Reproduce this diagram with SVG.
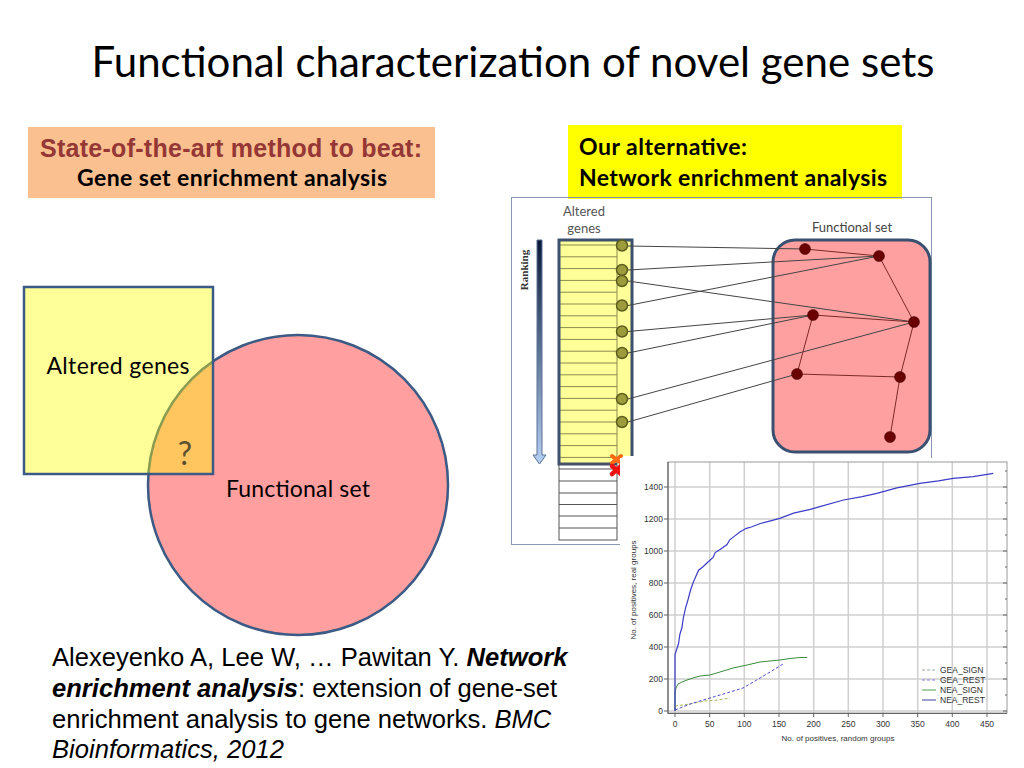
<svg xmlns="http://www.w3.org/2000/svg" width="1024" height="768" viewBox="0 0 1024 768">
<defs>
<style>
.cal{font-family:Lato,"Open Sans","Noto Sans",sans-serif}
.ari{font-family:"Liberation Sans",Arial,sans-serif}
.gridl{stroke:#cfcfcf;stroke-width:1.5;fill:none}
.tick{font-family:"Liberation Sans",Arial,sans-serif;font-size:8.5px;fill:#333}
.lnk{stroke:#444;stroke-width:1;fill:none}
.edge{stroke:#7a2a2a;stroke-width:1;fill:none}
.gc{fill:#9c9c3c;stroke:#5e5e1e;stroke-width:1.5}
.fn{fill:#6a0000;stroke:#3a0000;stroke-width:0.5}
.row{stroke:#8a8a50;stroke-width:1}
.row2{stroke:#555;stroke-width:1}
</style>
<linearGradient id="rankg" x1="0" y1="0" x2="0" y2="1">
<stop offset="0" stop-color="#08183a"/>
<stop offset="1" stop-color="#b4d0f4"/>
</linearGradient>
</defs>
<rect width="1024" height="768" fill="#ffffff"/>

<!-- Title -->
<text class="cal" x="513" y="77" font-size="42" text-anchor="middle" textLength="843" fill="#000">Functional characterization of novel gene sets</text>

<!-- Left header box -->
<g id="gsea-box">
<rect x="28" y="127" width="407" height="71" fill="#fac090"/>
<text class="ari" x="231" y="157" font-size="25" font-weight="bold" text-anchor="middle" fill="#953735" textLength="382">State-of-the-art method to beat:</text>
<text class="cal" x="232" y="186" font-size="23" font-weight="bold" text-anchor="middle" fill="#000" textLength="310">Gene set enrichment analysis</text>
</g>

<!-- Right header box -->
<g id="nea-box">
<rect x="568" y="125" width="334" height="74" fill="#ffff00"/>
<text class="cal" x="579" y="155" font-size="23" font-weight="bold" fill="#000" textLength="168">Our alternative:</text>
<text class="cal" x="579" y="186" font-size="23" font-weight="bold" fill="#000" textLength="308">Network enrichment analysis</text>
</g>

<!-- Venn -->
<g id="functional-set-circle">
<circle cx="298" cy="485" r="150" fill="#ff9f9f" stroke="#3b5a85" stroke-width="2.5"/>
</g>
<g id="altered-genes-square">
<rect x="24" y="287" width="189" height="187" fill="#ffff00" fill-opacity="0.4" stroke="#3b5a85" stroke-width="2.5"/>
<text class="cal" x="118" y="374" font-size="23" text-anchor="middle" fill="#000" textLength="143">Altered genes</text>
</g>
<g id="overlap">
<text class="cal" x="185" y="465" font-size="32" text-anchor="middle" fill="#5a5030">?</text>
</g>
<text class="cal" x="298" y="497" font-size="23" text-anchor="middle" fill="#000" textLength="144">Functional set</text>

<!-- Citation -->
<g id="citation" class="ari" font-size="25.6" fill="#000">
<text x="52" y="666">Alexeyenko A, Lee W, … Pawitan Y. <tspan font-weight="bold" font-style="italic">Network</tspan></text>
<text x="52" y="697"><tspan font-weight="bold" font-style="italic">enrichment analysis</tspan>: extension of gene-set</text>
<text x="52" y="728">enrichment analysis to gene networks. <tspan font-style="italic">BMC</tspan></text>
<text x="52" y="758"><tspan font-style="italic">Bioinformatics, 2012</tspan></text>
</g>

<!-- Network figure -->
<g id="network-frame">
<rect x="511.5" y="197.5" width="420" height="347" fill="none" stroke="#8898b0" stroke-width="1"/>
<text class="cal" x="584" y="216" font-size="13" text-anchor="middle" fill="#555">Altered</text>
<text class="cal" x="584" y="233" font-size="13" text-anchor="middle" fill="#555">genes</text>
<text x="0" y="0" font-family="'Liberation Serif',serif" font-size="11" font-weight="bold" fill="#333" text-anchor="middle" transform="translate(528,270) rotate(-90)">Ranking</text>
<text class="cal" x="852" y="232" font-size="13" text-anchor="middle" fill="#444">Functional set</text>
</g>

<g id="ranking-arrow">
<path d="M537,240 L542,240 L542,455 L546,455 L539.5,464 L533,455 L537,455 Z" fill="url(#rankg)" stroke="#5a7090" stroke-width="1"/>
</g>

<g id="gene-list">
<rect x="559" y="240" width="73" height="216" fill="#ffff99"/>
<rect x="559" y="456" width="58" height="8" fill="#ffff99"/>
<g class="row">
<line x1="560" y1="245" x2="617" y2="245"/>
<line x1="560" y1="256.8" x2="617" y2="256.8"/>
<line x1="560" y1="268.6" x2="617" y2="268.6"/>
<line x1="560" y1="280.4" x2="617" y2="280.4"/>
<line x1="560" y1="292.2" x2="617" y2="292.2"/>
<line x1="560" y1="304" x2="617" y2="304"/>
<line x1="560" y1="315.8" x2="617" y2="315.8"/>
<line x1="560" y1="327.6" x2="617" y2="327.6"/>
<line x1="560" y1="339.4" x2="617" y2="339.4"/>
<line x1="560" y1="351.2" x2="617" y2="351.2"/>
<line x1="560" y1="363" x2="617" y2="363"/>
<line x1="560" y1="374.8" x2="617" y2="374.8"/>
<line x1="560" y1="386.6" x2="617" y2="386.6"/>
<line x1="560" y1="398.4" x2="617" y2="398.4"/>
<line x1="560" y1="410.2" x2="617" y2="410.2"/>
<line x1="560" y1="422" x2="617" y2="422"/>
<line x1="560" y1="433.8" x2="617" y2="433.8"/>
<line x1="560" y1="445.6" x2="617" y2="445.6"/>
<line x1="560" y1="457.4" x2="617" y2="457.4"/>
<line x1="617" y1="240" x2="617" y2="464"/>
</g>
<path d="M632,456 L632,240 L559,240 L559,464 L617,464" fill="none" stroke="#3c5070" stroke-width="3"/>
<g class="row2">
<rect x="559" y="464" width="58" height="76" fill="none"/>
<line x1="559" y1="469" x2="617" y2="469"/>
<line x1="559" y1="481" x2="617" y2="481"/>
<line x1="559" y1="493" x2="617" y2="493"/>
<line x1="559" y1="504.5" x2="617" y2="504.5"/>
<line x1="559" y1="516" x2="617" y2="516"/>
<line x1="559" y1="528" x2="617" y2="528"/>
</g>
<path d="M612,456 L621,463 M621,456 L612,463" stroke="#ff6a10" stroke-width="4" stroke-linecap="round"/>
<path d="M612,466 L621,474 M621,466 L612,474" stroke="#ee1010" stroke-width="4.5" stroke-linecap="round"/>
</g>

<g id="functional-set-box">
<rect x="773" y="240" width="157" height="212" rx="22" ry="22" fill="#ffa0a0" stroke="#3a5070" stroke-width="3"/>
</g>

<g id="connectors">
<line class="lnk" x1="628" y1="246" x2="805" y2="249"/>
<line class="lnk" x1="628" y1="270" x2="879" y2="256"/>
<line class="lnk" x1="628" y1="281" x2="914" y2="322"/>
<line class="lnk" x1="628" y1="305.5" x2="879" y2="256"/>
<line class="lnk" x1="628" y1="331.5" x2="813" y2="315"/>
<line class="lnk" x1="628" y1="353" x2="813" y2="315"/>
<line class="lnk" x1="628" y1="399" x2="914" y2="322"/>
<line class="lnk" x1="628" y1="422" x2="797" y2="374"/>
<line class="edge" x1="805" y1="249" x2="879" y2="256"/>
<line class="edge" x1="879" y1="256" x2="914" y2="322"/>
<line class="edge" x1="813" y1="315" x2="914" y2="322"/>
<line class="edge" x1="813" y1="315" x2="797" y2="374"/>
<line class="edge" x1="797" y1="374" x2="900" y2="377"/>
<line class="edge" x1="914" y1="322" x2="900" y2="377"/>
<line class="edge" x1="900" y1="377" x2="890" y2="437"/>
</g>

<g id="gene-circles">
<circle class="gc" cx="622" cy="245.5" r="5.5"/>
<circle class="gc" cx="622" cy="270" r="5.5"/>
<circle class="gc" cx="622" cy="281" r="5.5"/>
<circle class="gc" cx="622" cy="305.5" r="5.5"/>
<circle class="gc" cx="622" cy="331.5" r="5.5"/>
<circle class="gc" cx="622" cy="353" r="5.5"/>
<circle class="gc" cx="622" cy="399" r="5.5"/>
<circle class="gc" cx="622" cy="422" r="5.5"/>
</g>

<g id="set-nodes">
<circle class="fn" cx="805" cy="249" r="5.5"/>
<circle class="fn" cx="879" cy="256" r="5.5"/>
<circle class="fn" cx="813" cy="315" r="5.5"/>
<circle class="fn" cx="914" cy="322" r="5.5"/>
<circle class="fn" cx="797" cy="374" r="5.5"/>
<circle class="fn" cx="900" cy="377" r="5.5"/>
<circle class="fn" cx="890" cy="437" r="5.5"/>
</g>

<!-- Chart -->
<g id="chart">
<rect x="620" y="458" width="392" height="296" fill="#ffffff"/>
<g class="gridl">
<line x1="675" y1="462" x2="675" y2="713"/>
<line x1="709.7" y1="462" x2="709.7" y2="713"/>
<line x1="744.3" y1="462" x2="744.3" y2="713"/>
<line x1="779" y1="462" x2="779" y2="713"/>
<line x1="813.7" y1="462" x2="813.7" y2="713"/>
<line x1="848.3" y1="462" x2="848.3" y2="713"/>
<line x1="883" y1="462" x2="883" y2="713"/>
<line x1="917.7" y1="462" x2="917.7" y2="713"/>
<line x1="952.3" y1="462" x2="952.3" y2="713"/>
<line x1="987" y1="462" x2="987" y2="713"/>
<line x1="668" y1="711" x2="1007" y2="711"/>
<line x1="668" y1="679" x2="1007" y2="679"/>
<line x1="668" y1="647" x2="1007" y2="647"/>
<line x1="668" y1="615" x2="1007" y2="615"/>
<line x1="668" y1="583" x2="1007" y2="583"/>
<line x1="668" y1="551" x2="1007" y2="551"/>
<line x1="668" y1="519" x2="1007" y2="519"/>
<line x1="668" y1="487" x2="1007" y2="487"/>
</g>
<rect x="668" y="462" width="339" height="251" fill="none" stroke="#9a9a9a" stroke-width="1"/>
<path d="M668,462 L668,713.5 L1007,713.5" fill="none" stroke="#666" stroke-width="1.2"/>
<path d="M664,711 H668 M664,679 H668 M664,647 H668 M664,615 H668 M664,583 H668 M664,551 H668 M664,519 H668 M664,487 H668 M675,713 V717 M709.7,713 V717 M744.3,713 V717 M779,713 V717 M813.7,713 V717 M848.3,713 V717 M883,713 V717 M917.7,713 V717 M952.3,713 V717 M987,713 V717 M1003,711 H1007 M1003,679 H1007 M1003,647 H1007 M1003,615 H1007 M1003,583 H1007 M1003,551 H1007 M1003,519 H1007 M1003,487 H1007 M1005,695 H1007 M1005,663 H1007 M1005,631 H1007 M1005,599 H1007 M1005,567 H1007 M1005,535 H1007 M1005,503 H1007 M1005,471 H1007" stroke="#666" stroke-width="1"/>
<g class="tick" text-anchor="end">
<text x="663" y="714">0</text>
<text x="663" y="682">200</text>
<text x="663" y="650">400</text>
<text x="663" y="618">600</text>
<text x="663" y="586">800</text>
<text x="663" y="554">1000</text>
<text x="663" y="522">1200</text>
<text x="663" y="490">1400</text>
</g>
<g class="tick" text-anchor="middle">
<text x="675" y="727">0</text>
<text x="709.7" y="727">50</text>
<text x="744.3" y="727">100</text>
<text x="779" y="727">150</text>
<text x="813.7" y="727">200</text>
<text x="848.3" y="727">250</text>
<text x="883" y="727">300</text>
<text x="917.7" y="727">350</text>
<text x="952.3" y="727">400</text>
<text x="987" y="727">450</text>
<text x="838" y="741" font-size="8">No. of positives, random groups</text>
<text x="0" y="0" font-size="8" transform="translate(636,590) rotate(-90)">No. of positives, real groups</text>
</g>
<polyline fill="none" stroke="#a8b850" stroke-width="1" stroke-dasharray="3,2" points="675,706 690,704 705,701 718,700 730,698"/>
<polyline fill="none" stroke="#5050d0" stroke-width="1" stroke-dasharray="3,2" points="675,710 690,704 710,698 730,692 743,688 755,681 770,672 783,664"/>
<polyline fill="none" stroke="#3c8c3c" stroke-width="1" points="675,711 675,692 676,688 678,684 682,682 687,680 693,678 700,676 710,675 720,672 733,668 747,665 760,662 770,661 780,660 790,658.5 800,657.5 807,657.5"/>
<polyline fill="none" stroke="#3c3cc8" stroke-width="1.2" points="675,711 675,655 676.4,650.2 678.5,643.8 679.9,634.2 681.9,627.8 683.3,618.2 685.4,608.6 688.2,599 690.3,591 693,583 695.8,576.6 698.6,570.2 702.7,567 706.9,563 713.1,557.4 715.2,552.6 720.1,549.4 727,544.6 729.8,539.8 733.9,536.6 740.2,531.8 746.4,528.3 751.3,527 760.3,523.5 768.6,521.4 779.7,518.4 793.6,513.2 810.2,509.4 819.9,506.7 843.5,500 862.2,496.6 876.8,493.4 896.9,487.8 919.8,483.3 938.5,480.9 953.1,478.4 973.2,476.6 993.3,473.4"/>
<g id="legend">
<line x1="922" y1="670" x2="936" y2="670" stroke="#90b090" stroke-width="1" stroke-dasharray="3,2"/>
<line x1="922" y1="680" x2="936" y2="680" stroke="#8080e0" stroke-width="1" stroke-dasharray="3,2"/>
<line x1="922" y1="690" x2="936" y2="690" stroke="#50a050" stroke-width="1"/>
<line x1="922" y1="700" x2="936" y2="700" stroke="#4040a0" stroke-width="1"/>
<g class="tick" font-size="8">
<text x="940" y="673">GEA_SIGN</text>
<text x="940" y="683">GEA_REST</text>
<text x="940" y="693">NEA_SIGN</text>
<text x="940" y="703">NEA_REST</text>
</g>
</g>
</g>
</svg>
